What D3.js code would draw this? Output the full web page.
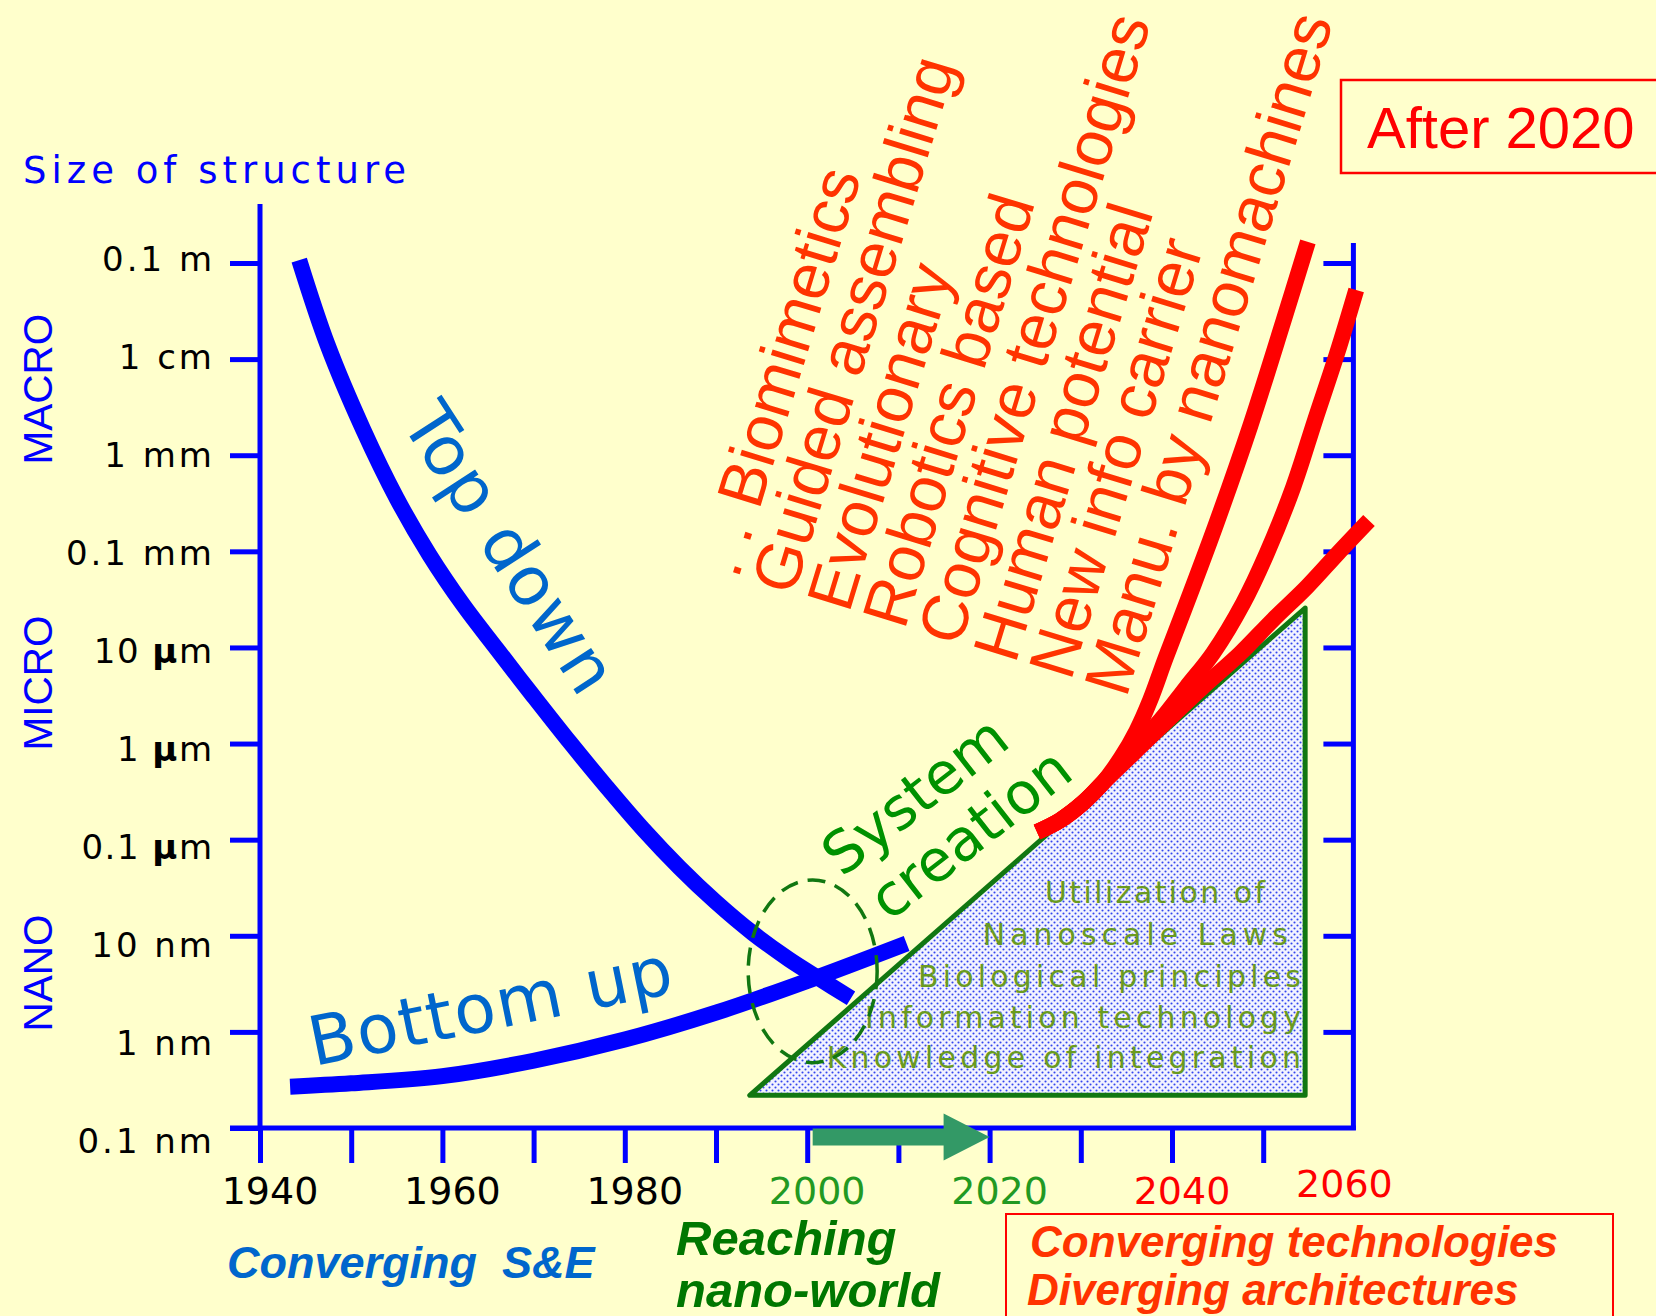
<!DOCTYPE html>
<html><head><meta charset="utf-8">
<script src="https://cdn.jsdelivr.net/npm/d3@7"></script>
<style>html,body{margin:0;padding:0;background:#ffffcc;overflow:hidden}svg{display:block}</style>
</head><body><svg id="c" width="1656" height="1316"></svg>
<script>
// ---------------- DATA ----------------
const yTickExp = [-1,-2,-3,-4,-5,-6,-7,-8,-9,-10];
const yTickLabels = ["0.1 m","1 cm","1 mm","0.1 mm","10 µm","1 µm","0.1 µm","10 nm","1 nm","0.1 nm"];
const xTickYears = [1940,1950,1960,1970,1980,1990,2000,2010,2020,2030,2040,2050];
const xLabelYears = [1940,1960,1980,2000,2020,2040,2060];
const scaleBands = ["MACRO","MICRO","NANO"];

const topDownYears = [1944.3,1947.4,1951.3,1955.0,1958.6,1962.3,1966.0,1970.0,1974.0,1978.0,1982.0,1986.0,1990.0,1994.0,1998.0,2001.4,2004.8];
const topDownExp   = [-0.97,-1.85,-2.73,-3.45,-4.04,-4.56,-5.02,-5.51,-5.99,-6.45,-6.89,-7.29,-7.65,-7.97,-8.245,-8.45,-8.65];

const bottomUpYears = [1943.3,1950.0,1960.0,1970.0,1980.0,1990.0,2000.0,2010.9];
const bottomUpExp   = [-9.57,-9.535,-9.46,-9.30,-9.08,-8.80,-8.47,-8.08];

const trunkYears = [2025.2,2027.7,2030.2,2032.4];
const trunkExp   = [-6.92,-6.80,-6.62,-6.41];
const redAYears = [2034.4,2036.1,2037.6,2039.3,2042.0,2044.9,2048.6,2052.2,2054.9];
const redAExp   = [-6.15,-5.87,-5.55,-5.11,-4.44,-3.70,-2.69,-1.61,-0.78];
const redBYears = [2035.4,2038.7,2041.6,2044.5,2047.8,2050.4,2053.3,2055.7,2058.1,2060.2];
const redBExp   = [-6.09,-5.76,-5.41,-5.06,-4.54,-4.02,-3.33,-2.63,-1.94,-1.28];
const redCYears = [2035.9,2039.5,2043.4,2047.5,2051.1,2054.8,2058.2,2061.6];
const redCExp   = [-6.09,-5.76,-5.41,-5.06,-4.71,-4.37,-4.02,-3.68];

const triangleYears = [1993.7,2054.6,2054.6];
const triangleExp   = [-9.66,-9.66,-4.59];

const ellipseCenter = [2000.6,-8.37];   // year, exponent
const ellipseRadii  = [7.07,0.95];      // years, decades
const arrowYears = [2000.6,2020.0];

const redLines = [". . Biomimetics","Guided assembling","Evolutionary","Robotics based","Cognitive technologies","Human potential","New info carrier","Manu. by nanomachines"];
const triLines = ["Utilization of","Nanoscale Laws","Biological principles","Information technology","Knowledge of integration"];

// ---------------- STYLE / LAYOUT ----------------
const BG="#ffffcc", AXIS="#0000ff", BLUE="#0000ff", TXTBLUE="#0066cc", RED="#ff0000", ORANGE="#ff3300";
const DJ="'DejaVu Sans', Verdana, sans-serif", LIB="'Liberation Sans', Arial, sans-serif";
const xLabelColor = y => y<2000 ? "#000" : (y<2040 ? "#229922" : "#ff0000");
const triLayout = {base:[903,945,987,1028,1068], end:[1265,1288,1301,1301,1301], ls:[2.4,5.0,4.2,4.1,4.2]};

// ---------------- SCALES ----------------
const x = d3.scaleLinear().domain([1940,2050]).range([260,1263.2]);
const y = d3.scaleLog().domain([1e-10,1e-1]).range([1128,263]);
const Y = e => y(Math.pow(10,e));

const svg = d3.select("#c");
svg.append("rect").attr("width",1656).attr("height",1316).attr("fill",BG);

const defs = svg.append("defs");
const pat = defs.append("pattern").attr("id","dots").attr("patternUnits","userSpaceOnUse").attr("width",6).attr("height",6);
pat.append("rect").attr("width",6).attr("height",6).attr("fill","#f2f3ff");
pat.append("circle").attr("cx",1.5).attr("cy",1.5).attr("r",1.05).attr("fill","#3344ee");
pat.append("circle").attr("cx",4.5).attr("cy",4.5).attr("r",1.05).attr("fill","#3344ee");

// ---------------- TRIANGLE ----------------
svg.append("polygon")
  .attr("points", triangleYears.map((t,i)=>[x(t),Y(triangleExp[i])].join(",")).join(" "))
  .attr("fill","url(#dots)").attr("stroke","#117711").attr("stroke-width",5).attr("stroke-linejoin","round");

svg.append("g").selectAll("text").data(triLines).join("text")
  .attr("x",(d,i)=>triLayout.end[i]+triLayout.ls[i]).attr("y",(d,i)=>triLayout.base[i]).attr("text-anchor","end")
  .attr("font-family",DJ).attr("font-size",30).attr("letter-spacing",(d,i)=>triLayout.ls[i])
  .attr("fill","#6a9b1f").text(d=>d);

// ---------------- AXES ----------------
const yTickVals = yTickExp.map(e=>Math.pow(10,e));
const gl = svg.append("g").attr("transform","translate(260,0)")
  .call(d3.axisLeft(y).tickValues(yTickVals).tickSize(30).tickSizeOuter(0).tickFormat(""));
const gr = svg.append("g").attr("transform",`translate(${x(2060)-1},0)`)
  .call(d3.axisLeft(y).tickValues(yTickVals.slice(0,9)).tickSize(30).tickSizeOuter(0).tickFormat(""));
const gb = svg.append("g").attr("transform","translate(0,1128)")
  .call(d3.axisBottom(x).tickValues(xTickYears).tickSize(35).tickSizeOuter(0).tickFormat(""));
[gl,gr,gb].forEach(g=>{g.select(".domain").remove(); g.selectAll(".tick line").attr("stroke",AXIS).attr("stroke-width",5);});

svg.append("line").attr("x1",260).attr("x2",260).attr("y1",204).attr("y2",1130).attr("stroke",AXIS).attr("stroke-width",5);
svg.append("line").attr("x1",x(2060)-1).attr("x2",x(2060)-1).attr("y1",243).attr("y2",1130).attr("stroke",AXIS).attr("stroke-width",5);
svg.append("line").attr("x1",230).attr("x2",x(2060)+1.5).attr("y1",1128).attr("y2",1128).attr("stroke",AXIS).attr("stroke-width",5);

// y labels
const yl = svg.append("g").selectAll("text").data(yTickLabels).join("text")
  .attr("x",d=> d.indexOf("µ")>=0 ? 213.5 : 215).attr("y",(d,i)=>258+i*98.1+12.5).attr("text-anchor","end")
  .attr("font-family",DJ).attr("font-size",34).attr("letter-spacing",d=> d.indexOf("µ")>=0 ? 1.5 : 3).attr("fill","#000");
yl.each(function(d){
  const t=d3.select(this);
  if(d.indexOf("µ")>=0){
    const p=d.split("µ");
    t.append("tspan").text(p[0]);
    t.append("tspan").attr("font-weight","bold").text("µ");
    t.append("tspan").text(p[1]);
  } else t.text(d);
});

// x labels
svg.append("g").selectAll("text").data(xLabelYears).join("text")
  .attr("x",d=> d===2060 ? x(d)-10 : x(d)+10)
  .attr("y",d=> d===2060 ? 1197 : 1204)
  .attr("text-anchor","middle").attr("font-family",DJ).attr("font-size",38)
  .attr("fill",d=>xLabelColor(d)).text(d=>d);

// axis title & bands
svg.append("text").attr("x",23).attr("y",183).attr("font-family",DJ).attr("font-size",37)
  .attr("letter-spacing",5).attr("fill","#0000ff").text("Size of structure");
const bandCenters=[389,683,973];
svg.append("g").selectAll("text").data(scaleBands).join("text")
  .attr("transform",(d,i)=>`translate(52,${bandCenters[i]}) rotate(-90)`)
  .attr("text-anchor","middle").attr("font-family",LIB).attr("font-size",40.5).attr("fill","#0000ff").text(d=>d);

// ---------------- CURVES ----------------
const line = d3.line().x(d=>x(d[0])).y(d=>Y(d[1])).curve(d3.curveCatmullRom.alpha(0.5));
const zip = (a,b)=>a.map((v,i)=>[v,b[i]]);

svg.append("path").attr("d",line(zip(topDownYears,topDownExp)))
  .attr("fill","none").attr("stroke",BLUE).attr("stroke-width",16).attr("stroke-linejoin","round");
svg.append("path").attr("d",line(zip(bottomUpYears,bottomUpExp)))
  .attr("fill","none").attr("stroke",BLUE).attr("stroke-width",16).attr("stroke-linejoin","round");

// dashed ellipse
const ecx=x(ellipseCenter[0]), ecy=Y(ellipseCenter[1]);
svg.append("ellipse").attr("cx",ecx).attr("cy",ecy)
  .attr("rx",x(ellipseCenter[0]+ellipseRadii[0])-ecx)
  .attr("ry",Y(ellipseCenter[1]-ellipseRadii[1])-ecy)
  .attr("fill","none").attr("stroke","#117711").attr("stroke-width",3.5).attr("stroke-dasharray","18 10");

// red curves
const trunk = zip(trunkYears,trunkExp);
[[redAYears,redAExp],[redBYears,redBExp],[redCYears,redCExp]].forEach(([a,b])=>{
  svg.append("path").attr("d",line(trunk.concat(zip(a,b))))
    .attr("fill","none").attr("stroke",RED).attr("stroke-width",16).attr("stroke-linejoin","round");
});

// arrow
const ay=1137, ax0=x(arrowYears[0]), ax1=x(arrowYears[1]);
svg.append("polygon").attr("points",[
  [ax0,ay-8.5],[ax1-46,ay-8.5],[ax1-46,ay-23.5],[ax1,ay],[ax1-46,ay+23.5],[ax1-46,ay+8.5],[ax0,ay+8.5]
].map(p=>p.join(",")).join(" ")).attr("fill","#339966");

// ---------------- TEXT ANNOTATIONS ----------------
svg.append("text").attr("transform","translate(400,422) rotate(57)")
  .attr("font-family",DJ).attr("font-size",68).attr("letter-spacing",1.5).attr("fill",TXTBLUE).text("Top down");
svg.append("text").attr("transform","translate(314,1066) rotate(-11.5)")
  .attr("font-family",DJ).attr("font-size",68).attr("letter-spacing",1.5).attr("fill",TXTBLUE).text("Bottom up");

const sc = svg.append("g").attr("transform","translate(842,878) rotate(-38)")
  .attr("font-family",DJ).attr("font-size",58).attr("fill","#009100");
sc.append("text").attr("x",0).attr("y",0).text("System");
sc.append("text").attr("x",10).attr("y",64).text("creation");

const rg = svg.append("g").attr("transform","translate(738,580) rotate(-73)")
  .attr("font-family",LIB).attr("font-size",65).attr("fill",ORANGE);
rg.selectAll("text").data(redLines).join("text")
  .attr("x",0).attr("y",(d,i)=>i*58).attr("xml:space","preserve").style("white-space","pre").text(d=>d);

// After 2020 box
svg.append("rect").attr("x",1341).attr("y",80).attr("width",340).attr("height",93)
  .attr("fill","none").attr("stroke",RED).attr("stroke-width",2.5);
svg.append("text").attr("x",1367).attr("y",148).attr("font-family",LIB).attr("font-size",58)
  .attr("fill",RED).text("After 2020");

// bottom captions
svg.append("text").attr("x",227).attr("y",1278).attr("xml:space","preserve").style("white-space","pre")
  .attr("font-family",LIB).attr("font-size",45).attr("font-style","italic").attr("font-weight","bold")
  .attr("fill",TXTBLUE).text("Converging  S&E");
const rn = svg.append("g").attr("font-family",LIB).attr("font-size",49).attr("font-style","italic")
  .attr("font-weight","bold").attr("fill","#007700");
rn.append("text").attr("x",676).attr("y",1255).text("Reaching");
rn.append("text").attr("x",676).attr("y",1307).text("nano-world");

svg.append("rect").attr("x",1006).attr("y",1214).attr("width",607).attr("height",140)
  .attr("fill","none").attr("stroke",RED).attr("stroke-width",2);
const ct = svg.append("g").attr("font-family",LIB).attr("font-size",44).attr("font-style","italic")
  .attr("font-weight","bold").attr("fill",ORANGE);
ct.append("text").attr("x",1030).attr("y",1257).text("Converging technologies");
ct.append("text").attr("x",1027).attr("y",1305).text("Diverging architectures");
</script></body></html>
